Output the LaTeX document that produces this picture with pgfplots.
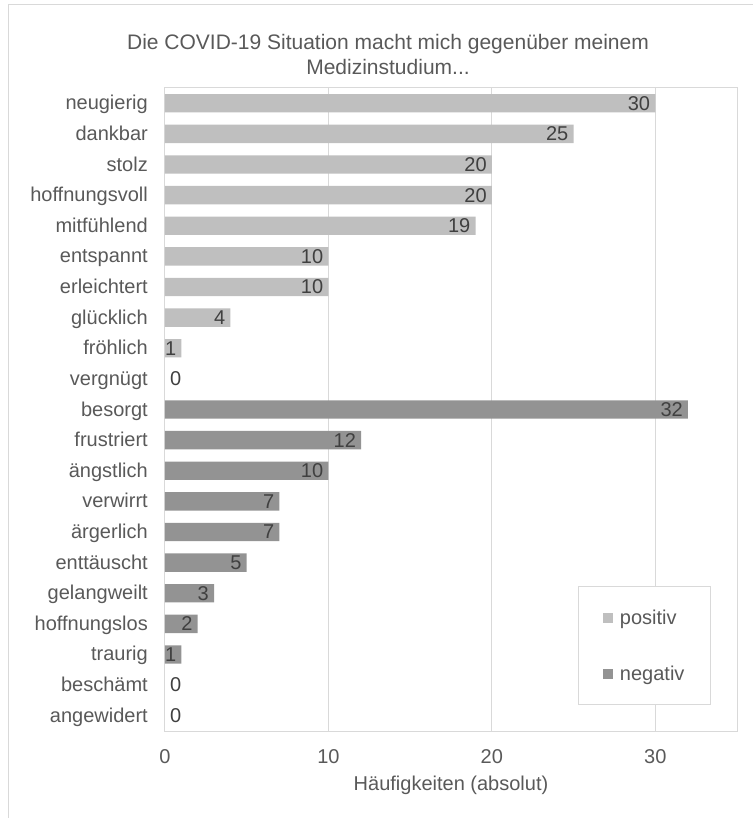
\documentclass[border=0pt]{standalone}
\usepackage{pgfplots}
\pgfplotsset{compat=1.18}
\usepackage{fontspec}
\setmainfont{Liberation Sans}
\definecolor{txt}{HTML}{595959}
\definecolor{valtxt}{HTML}{404040}
\definecolor{gridc}{HTML}{D9D9D9}
\definecolor{pos}{HTML}{BFBFBF}
\definecolor{neg}{HTML}{939393}

\begin{document}
\begin{tikzpicture}[font=\fontsize{20}{24}\selectfont]
\useasboundingbox (-165pt,-87pt) rectangle (588pt,731pt);
\draw[gridc, line width=1pt] (-156pt,-87pt) -- (-156pt,726pt) -- (588pt,726pt);
\begin{axis}[
    at={(0pt,0pt)}, anchor=south west,
    scale only axis, width=572pt, height=643pt,
    xbar, bar shift=0pt, bar width=0.6,
    xmin=0, xmax=35, ymin=-0.5, ymax=20.5, y dir=reverse,
    xtick={0,10,20,30}, ytick={0,...,20},
    yticklabels={neugierig,dankbar,stolz,hoffnungsvoll,mitfühlend,entspannt,erleichtert,glücklich,fröhlich,vergnügt,besorgt,frustriert,ängstlich,verwirrt,ärgerlich,enttäuscht,gelangweilt,hoffnungslos,traurig,beschämt,angewidert},
    /pgf/number format/assume math mode=true,
    major tick length=0pt,
    axis line style={gridc, line width=1pt},
    xmajorgrids, grid style={gridc, line width=1pt},
    xticklabel style={text=txt, anchor=center, yshift=-26pt},
    yticklabel style={text=txt, anchor=east, inner xsep=0pt, xshift=-17pt,
        text height=15pt, text depth=4pt, inner ysep=0pt, yshift=-1pt},
    xlabel={Häufigkeiten (absolut)},
    xlabel style={at={(axis description cs:0.5,0)}, anchor=center, yshift=-54pt, text=txt},
    nodes near coords,
    every node near coord/.append style={anchor=east, inner xsep=5pt, text=valtxt},
    legend image code/.code={\fill[#1,draw=none] (0pt,-5pt) rectangle (10pt,5pt);},
    legend cell align=left,
    legend style={at={(0.9545,0.0404)}, anchor=south east, draw=gridc, line width=1pt,
        inner xsep=24pt, inner ysep=21pt, row sep=36pt, text=txt,
        /tikz/every odd column/.append style={column sep=5pt}},
]
% positiv
\addplot[fill=pos, draw=none] coordinates {
    (30,0) (25,1) (20,2) (20,3) (19,4) (10,5) (10,6) (4,7) (1,8)
};
% negativ
\addplot[fill=neg, draw=none] coordinates {
    (32,10) (12,11) (10,12) (7,13) (7,14) (5,15) (3,16) (2,17) (1,18)
};
% Nullwerte: vergnügt, beschämt, angewidert
\addplot[draw=none, fill=none, forget plot,
    every node near coord/.append style={anchor=west}] coordinates {
    (0,9) (0,19) (0,20)
};
\legend{positiv,negativ}
\end{axis}
\node[align=center, text=txt, font=\fontsize{21}{25}\selectfont] at (223pt,676pt)
    {Die COVID-19 Situation macht mich gegenüber meinem\\Medizinstudium...};
\end{tikzpicture}
\end{document}
